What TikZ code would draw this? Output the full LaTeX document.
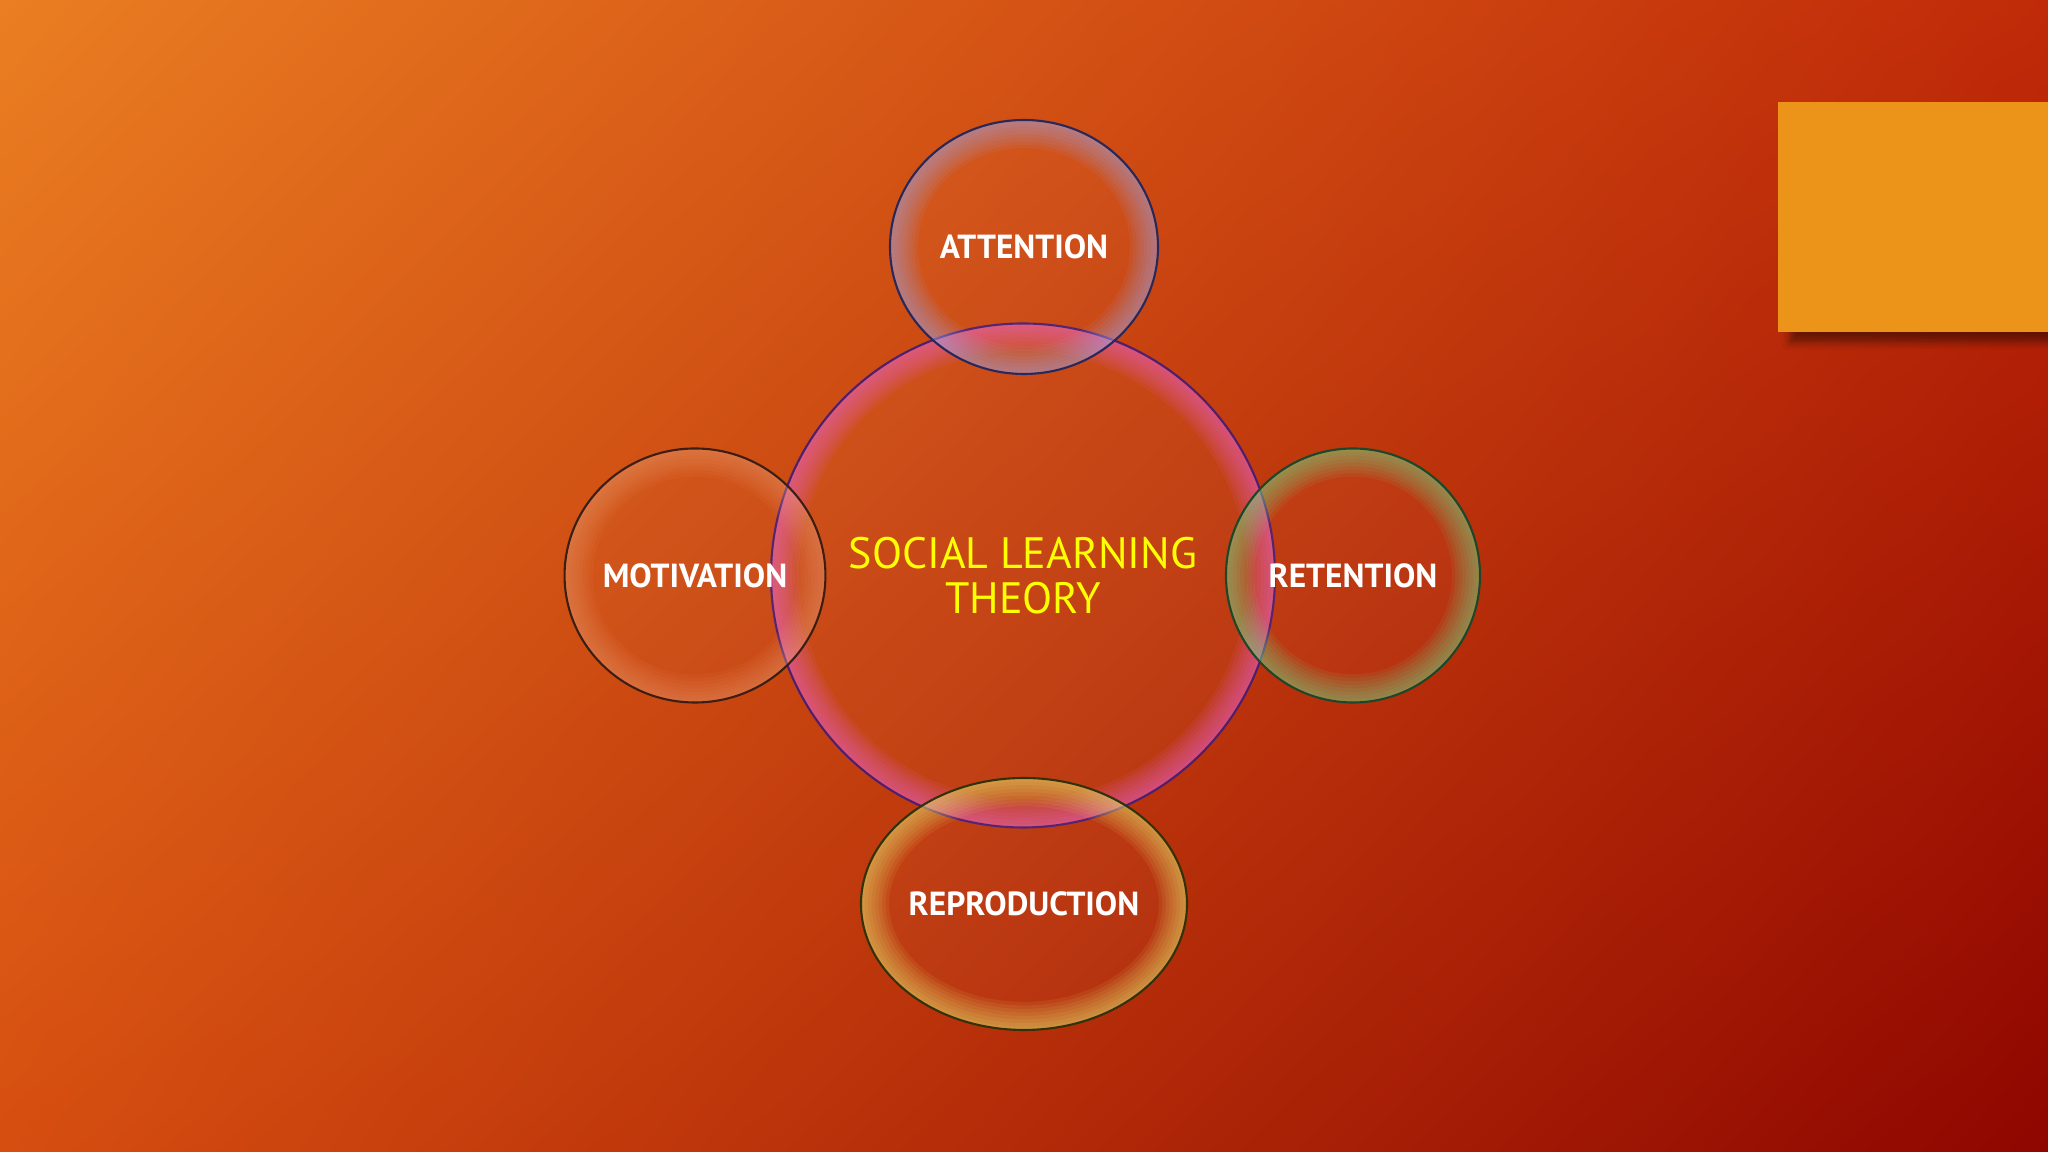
\documentclass[tikz,border=0pt]{standalone}
\usepackage{fontspec}
\setmainfont{PT Sans}
\usetikzlibrary{shapes.geometric}
\usetikzlibrary{calc}
\usetikzlibrary{shadows.blur}
\usetikzlibrary{shadings}

\definecolor{bgUL}{RGB}{234,126,34}
\definecolor{bgUR}{RGB}{192,42,8}
\definecolor{bgLL}{RGB}{214,78,16}
\definecolor{bgLR}{RGB}{142,6,0}
\definecolor{tabOrange}{RGB}{236,148,26}
\definecolor{titleYellow}{RGB}{255,255,0}
\definecolor{hubRim}{RGB}{236,100,210}
\definecolor{hubLine}{RGB}{80,30,110}
\definecolor{attRim}{RGB}{160,170,240}
\definecolor{attLine}{RGB}{40,40,90}
\definecolor{motRim}{RGB}{250,180,140}
\definecolor{motLine}{RGB}{60,30,20}
\definecolor{retRim}{RGB}{120,210,130}
\definecolor{retLine}{RGB}{30,70,40}
\definecolor{repRim}{RGB}{232,228,110}
\definecolor{repLine}{RGB}{50,50,10}

\tikzset{
    bubble/.style n args={3}{ellipse, inner sep=0pt, draw=#2, line width=0.6pt,
        fill=white, fill opacity=0.03, text opacity=1, text=white,
        font=\bfseries\fontsize{9.5}{11}\selectfont,
        path picture={
            \foreach \w in {2,4,...,16}
            \draw[line width=\w pt, draw=#1, opacity=#3]
                let \p1=(path picture bounding box.south west),
                    \p2=(path picture bounding box.north east) in
                ($(\p1)!0.5!(\p2)$) ellipse ({(\x2-\x1)/2} and {(\y2-\y1)/2});
        }},
}

\begin{document}
\begin{tikzpicture}
    \useasboundingbox (0,0) rectangle (20.48,11.52);
    \shade[upper left=bgUL, upper right=bgUR, lower left=bgLL, lower right=bgLR]
        (0,0) rectangle (20.48,11.52);

    % corner tab
    \fill[tabOrange, blur shadow={shadow xshift=1.2mm, shadow yshift=-1mm,
        shadow opacity=45, shadow blur radius=0.8mm}]
        (17.78,8.20) rectangle (20.48,10.50);

    % centre bubble
    \node[bubble={hubRim}{hubLine}{0.09}, minimum width=5.04cm, minimum height=5.04cm,
        text=titleYellow, align=center, font=\fontsize{12.5}{12.8}\selectfont]
        (hub) at (10.23,5.765) {SOCIAL LEARNING\\THEORY};

    % the four satellites
    \node[bubble={attRim}{attLine}{0.08}, minimum width=2.68cm, minimum height=2.54cm]
        (att) at (10.24,9.05) {ATTENTION};
    \node[bubble={motRim}{motLine}{0.05}, minimum width=2.54cm, minimum height=2.54cm]
        (mot) at (6.95,5.765) {MOTIVATION};
    \node[bubble={retRim}{retLine}{0.09}, minimum width=2.54cm, minimum height=2.54cm]
        (ret) at (13.53,5.765) {RETENTION};
    \node[bubble={repRim}{repLine}{0.09}, minimum width=3.22cm, minimum height=2.52cm]
        (rep) at (10.24,2.48) {REPRODUCTION};
\end{tikzpicture}
\end{document}
